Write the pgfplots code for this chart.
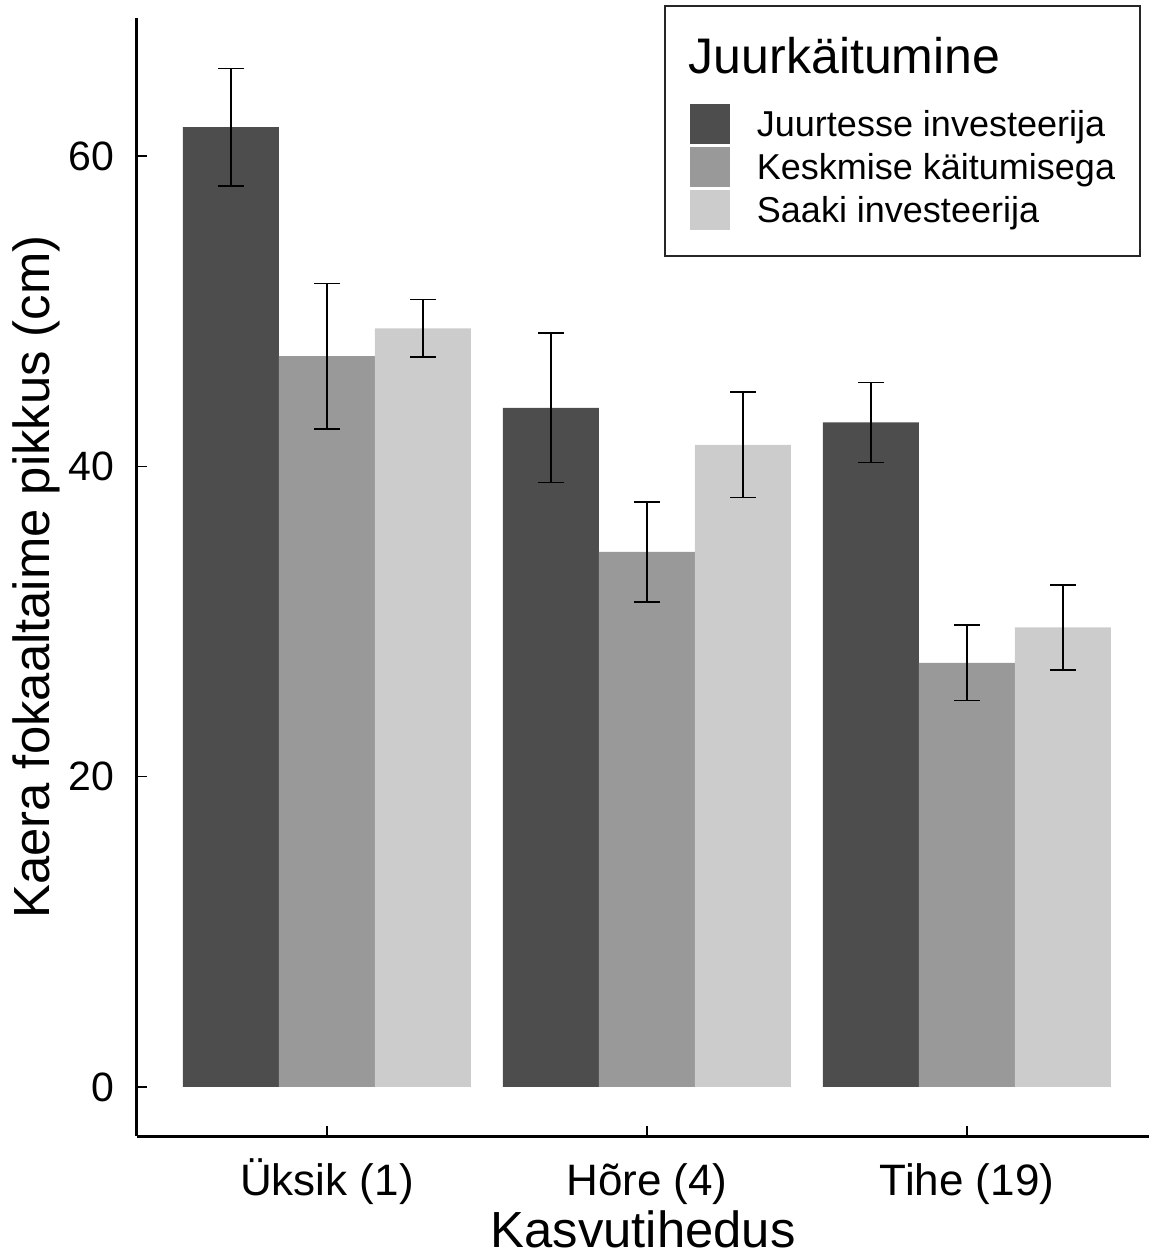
\documentclass[border=0pt]{standalone}
\usepackage{pgfplots}
\pgfplotsset{compat=1.18}
\usepackage{pgfplotstable}
\usepackage{fontspec}
\setmainfont{Liberation Sans}
\definecolor{dk}{HTML}{4D4D4D}
\definecolor{md}{HTML}{999999}
\definecolor{lt}{HTML}{CCCCCC}

\pgfplotstableread{
x y e
0.7 61.86 3.80
1.7 43.77 4.82
2.7 42.83 2.57
}\dark
\pgfplotstableread{
x y e
1.0 47.10 4.70
2.0 34.49 3.22
3.0 27.34 2.43
}\mid
\pgfplotstableread{
x y e
1.3 48.90 1.85
2.3 41.39 3.40
3.3 29.62 2.74
}\light

\begin{document}
\begin{tikzpicture}
\path[use as bounding box] (-68.5pt,-60.5pt) rectangle (506pt,568pt);
\begin{axis}[
 scale only axis, width=506pt, height=559pt,
 at={(0pt,0pt)}, anchor=south west,
 xmin=0.4063, xmax=3.5688, ymin=-3.16, ymax=68.9,
 axis x line*=bottom, axis y line*=left,
 axis line style={line width=1.5pt, -},
 xtick={1,2,3}, xticklabels={Üksik (1), Hõre (4), Tihe (19)},
 ytick={0,20,40,60},
 minor tick num=0,
 tick align=inside, major tick length=5pt,
 tick style={line width=0.75pt, black},
 /pgf/number format/assume math mode=true,
 yticklabel style={font=\fontsize{20.5}{24}\selectfont, xshift=-8pt},
 xticklabel style={font=\fontsize{22}{26}\selectfont, anchor=base, yshift=-29.5pt},
 xlabel={Kasvutihedus}, ylabel={Kaera fokaaltaime pikkus (cm)},
 label style={font=\fontsize{25.4}{30}\selectfont},
 xlabel style={at={(axis description cs:0.5,-0.1)}, anchor=base},
 ylabel style={at={(axis description cs:-0.086,0.5)}, anchor=base},
 legend cell align=left,
 legend style={at={(1,1)}, anchor=north east, xshift=-4pt, yshift=6.5pt,
   draw=black!85, line width=0.9pt, inner xsep=12.5pt, inner ysep=13pt,
   row sep=1.5pt, column sep=13.5pt, nodes={inner sep=0pt, text depth=},
   font=\fontsize{18}{21}\selectfont},
 clip=false,
]
\addlegendimage{empty legend}
\addlegendentry{\makebox[0pt][l]{\hspace{-34.5pt}\fontsize{25}{30}\selectfont\rule[-13.5pt]{0pt}{34.5pt}Juurkäitumine}}

\addplot[ybar, bar width=0.3, bar shift=0pt, fill=dk, draw=none,
  legend image code/.code={\fill[dk] (0pt,-10pt) rectangle (20pt,10pt);},
  error bars/.cd, y dir=both, y explicit, error mark=-,
  error bar style={line width=0.75pt, draw=black},
  error mark options={rotate=90, line width=0.75pt, mark size=6.4pt, draw=black}]
  table[x=x, y=y, y error=e] {\dark};
\addlegendentry{\raisebox{0pt}[16.5pt][3.5pt]{Juurtesse investeerija}}

\addplot[ybar, bar width=0.3, bar shift=0pt, fill=md, draw=none,
  legend image code/.code={\fill[md] (0pt,-10pt) rectangle (20pt,10pt);},
  error bars/.cd, y dir=both, y explicit, error mark=-,
  error bar style={line width=0.75pt, draw=black},
  error mark options={rotate=90, line width=0.75pt, mark size=6.4pt, draw=black}]
  table[x=x, y=y, y error=e] {\mid};
\addlegendentry{\raisebox{0pt}[16.5pt][3.5pt]{Keskmise käitumisega}}

\addplot[ybar, bar width=0.3, bar shift=0pt, fill=lt, draw=none,
  legend image code/.code={\fill[lt] (0pt,-10pt) rectangle (20pt,10pt);},
  error bars/.cd, y dir=both, y explicit, error mark=-,
  error bar style={line width=0.75pt, draw=black},
  error mark options={rotate=90, line width=0.75pt, mark size=6.4pt, draw=black}]
  table[x=x, y=y, y error=e] {\light};
\addlegendentry{\raisebox{0pt}[16.5pt][3.5pt]{Saaki investeerija}}
\end{axis}
\end{tikzpicture}
\end{document}
